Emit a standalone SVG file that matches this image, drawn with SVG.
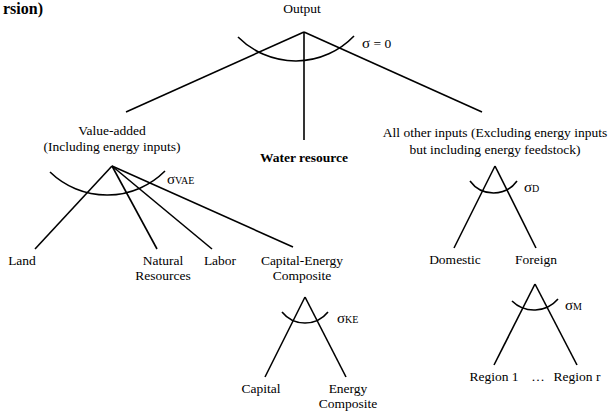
<svg xmlns="http://www.w3.org/2000/svg" width="608" height="416" viewBox="0 0 608 416">
<rect width="608" height="416" fill="#fff"/>
<text x="43" y="14" font-weight="bold" font-family="'Liberation Serif', serif" font-size="16" text-anchor="end">rsion)</text>
<g id="connectors" stroke="#000" stroke-width="1.6" fill="none">
<path d="M304,32 L126,112"/>
<path d="M304,32 L304,140"/>
<path d="M304,32 L482,112"/>
<path d="M112,166 L35,249"/>
<path d="M112,166 L157,249"/>
<path d="M112,166 L212,249"/>
<path d="M112,166 L293,247"/>
<path d="M305,297 L265,377"/>
<path d="M305,297 L346,377"/>
<path d="M495,166 L454,248"/>
<path d="M495,166 L536,248"/>
<path d="M535,284 L494,365"/>
<path d="M535,284 L577,365"/>
</g>
<g id="arcs" stroke="#000" stroke-width="1.6" fill="none">
<path d="M238,37 A81,81 0 0 0 354,36"/>
<path d="M50,172 A82,82 0 0 0 165,171"/>
<path d="M470,181 A29,29 0 0 0 517,181"/>
<path d="M282,312 A29.5,29.5 0 0 0 328,312"/>
<path d="M512,301 A31.5,31.5 0 0 0 558,299"/>
</g>
<g id="output">
<text x="302" y="13" text-anchor="middle" font-family="'Liberation Serif', serif" font-size="13.5">Output</text>
<text x="362" y="48" font-family="'Liberation Serif', serif" font-size="13.5"><tspan font-size="15">&#963;</tspan> = 0</text>
</g>
<g id="value-added">
<text x="112" y="135" text-anchor="middle" font-family="'Liberation Serif', serif" font-size="13.5">Value-added</text>
<text x="112" y="151" text-anchor="middle" font-family="'Liberation Serif', serif" font-size="13.5">(Including energy inputs)</text>
<text x="167" y="184" font-family="'Liberation Serif', serif" font-size="13.5"><tspan font-size="15">&#963;</tspan><tspan font-size="10">VAE</tspan></text>
</g>
<g id="water">
<text x="304" y="162" text-anchor="middle" font-weight="bold" font-family="'Liberation Serif', serif" font-size="13.5">Water resource</text>
</g>
<g id="other-inputs">
<text x="495" y="137" text-anchor="middle" font-family="'Liberation Serif', serif" font-size="13.5">All other inputs (Excluding energy inputs</text>
<text x="495" y="154" text-anchor="middle" font-family="'Liberation Serif', serif" font-size="13.5">but including energy feedstock)</text>
<text x="524" y="192" font-family="'Liberation Serif', serif" font-size="13.5"><tspan font-size="15">&#963;</tspan><tspan font-size="10">D</tspan></text>
</g>
<g id="land"><text x="22" y="265" text-anchor="middle" font-family="'Liberation Serif', serif" font-size="13.5">Land</text></g>
<g id="natural"><text x="163" y="265" text-anchor="middle" font-family="'Liberation Serif', serif" font-size="13.5">Natural</text><text x="163" y="280" text-anchor="middle" font-family="'Liberation Serif', serif" font-size="13.5">Resources</text></g>
<g id="labor"><text x="220" y="265" text-anchor="middle" font-family="'Liberation Serif', serif" font-size="13.5">Labor</text></g>
<g id="capital-energy">
<text x="302" y="265" text-anchor="middle" font-family="'Liberation Serif', serif" font-size="13.5">Capital-Energy</text>
<text x="302" y="280" text-anchor="middle" font-family="'Liberation Serif', serif" font-size="13.5">Composite</text>
<text x="337" y="323" font-family="'Liberation Serif', serif" font-size="13.5"><tspan font-size="15">&#963;</tspan><tspan font-size="10">KE</tspan></text>
</g>
<g id="capital"><text x="261" y="393" text-anchor="middle" font-family="'Liberation Serif', serif" font-size="13.5">Capital</text></g>
<g id="energy"><text x="348" y="393" text-anchor="middle" font-family="'Liberation Serif', serif" font-size="13.5">Energy</text><text x="348" y="408" text-anchor="middle" font-family="'Liberation Serif', serif" font-size="13.5">Composite</text></g>
<g id="domestic"><text x="455" y="264" text-anchor="middle" font-family="'Liberation Serif', serif" font-size="13.5">Domestic</text></g>
<g id="foreign">
<text x="536" y="264" text-anchor="middle" font-family="'Liberation Serif', serif" font-size="13.5">Foreign</text>
<text x="565" y="310" font-family="'Liberation Serif', serif" font-size="13.5"><tspan font-size="15">&#963;</tspan><tspan font-size="10">M</tspan></text>
</g>
<g id="region1"><text x="494" y="381" text-anchor="middle" font-family="'Liberation Serif', serif" font-size="13.5">Region 1</text></g>
<text x="538" y="381" text-anchor="middle" font-family="'Liberation Serif', serif" font-size="13.5">&#8230;</text>
<g id="regionr"><text x="577" y="381" text-anchor="middle" font-family="'Liberation Serif', serif" font-size="13.5">Region r</text></g>
</svg>
